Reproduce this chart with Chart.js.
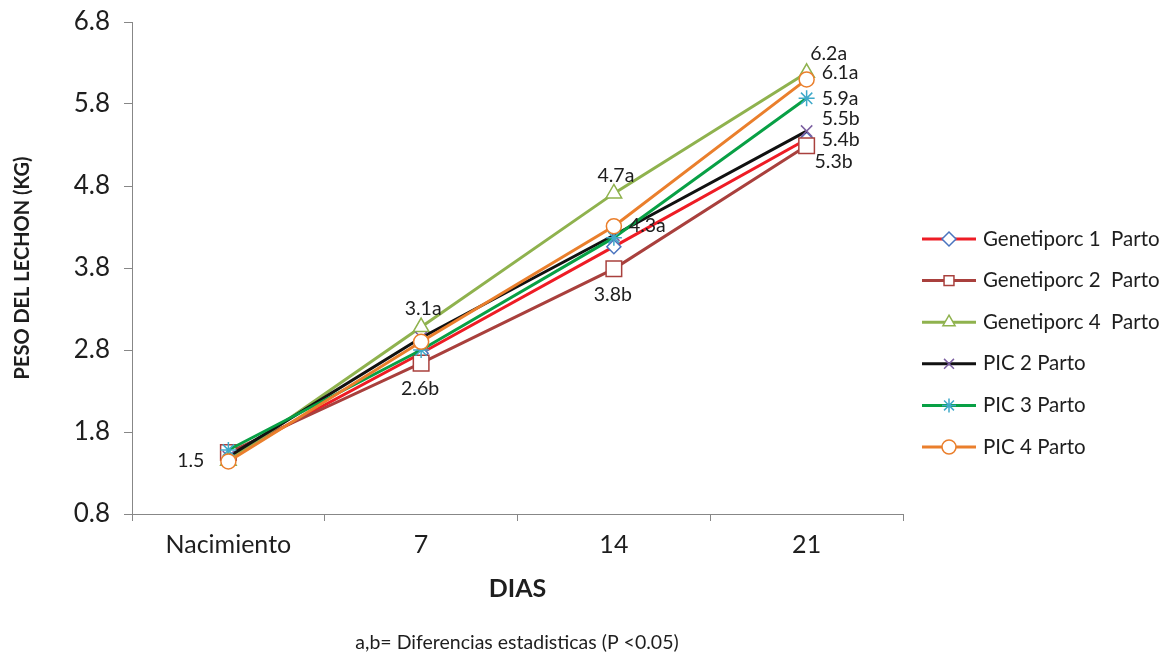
<!DOCTYPE html>
<html>
<head>
<meta charset="utf-8">
<script src="https://cdn.jsdelivr.net/npm/chart.js@4.4.0/dist/chart.umd.min.js"></script>
<style>
  html, body { margin: 0; padding: 0; background: #fff; }
  #wrap { width: 1160px; height: 656px; position: relative; }
</style>
</head>
<body>
<div id="wrap"><canvas id="chart"></canvas></div>
<script>
const categories = ["Nacimiento", "7", "14", "21"];

const genetiporc1 = [1.5, 2.76, 4.06, 5.37];
const genetiporc2 = [1.55, 2.64, 3.79, 5.29];
const genetiporc4 = [1.45, 3.08, 4.71, 6.18];
const pic2 = [1.5, 2.95, 4.2, 5.47];
const pic3 = [1.58, 2.8, 4.17, 5.87];
const pic4 = [1.44, 2.9, 4.31, 6.1];

const labelsG1 = ["1.5", null, null, "5.4b"];
const labelsG2 = [null, "2.6b", "3.8b", "5.3b"];
const labelsG4 = [null, "3.1a", "4.7a", "6.2a"];
const labelsPIC2 = [null, null, null, "5.5b"];
const labelsPIC3 = [null, null, null, "5.9a"];
const labelsPIC4 = [null, null, "4.3a", "6.1a"];

const seriesNames = [
  "Genetiporc 1  Parto",
  "Genetiporc 2  Parto",
  "Genetiporc 4  Parto",
  "PIC 2 Parto",
  "PIC 3 Parto",
  "PIC 4 Parto",
];

const FONT = "Lato, 'Open Sans', sans-serif";
const TEXT = "#1e1e1e";
const AXIS = "#878787";

// where each label sits relative to its point
const LABEL_OFFSETS = {
  left: { dx: -24, dy: 4, align: "right" },
  right: { dx: 15, dy: 0, align: "left" },
  rightUp: { dx: 15, dy: -7, align: "left" },
  rightUp2: { dx: 15, dy: -12, align: "left" },
  above: { dx: 2, dy: -18, align: "center" },
  below: { dx: -1, dy: 26, align: "center" },
  aboveRight: { dx: 22, dy: -19, align: "center" },
  belowRight: { dx: 27, dy: 16, align: "center" },
};

const makeDataset = (i, data, labels, lineColor, pointColor, pointStyle, radius, labelPos) => ({
  label: seriesNames[i],
  data,
  pointLabels: labels,
  labelPos,
  borderColor: lineColor,
  backgroundColor: "#fff",
  borderWidth: 3,
  pointStyle,
  pointRadius: radius,
  pointHoverRadius: radius,
  pointBorderColor: pointColor,
  pointBackgroundColor: "#fff",
  pointBorderWidth: 1.5,
  tension: 0,
  order: 5 - i,
});

const datasets = [
  makeDataset(0, genetiporc1, labelsG1, "#ee1c25", "#4a74bf", "rectRot", 7,
    ["left", null, null, "right"]),
  makeDataset(1, genetiporc2, labelsG2, "#a9403d", "#a9403d", "rect", 11,
    [null, "below", "below", "belowRight"]),
  makeDataset(2, genetiporc4, labelsG4, "#8fb24e", "#8fb24e", "triangle", 9,
    [null, "above", "above", "aboveRight"]),
  makeDataset(3, pic2, labelsPIC2, "#111111", "#7b5fa0", "crossRot", 8,
    [null, null, null, "rightUp2"]),
  makeDataset(4, pic3, labelsPIC3, "#08a045", "#3fa9c9", "star", 8,
    [null, null, null, "right"]),
  makeDataset(5, pic4, labelsPIC4, "#ea7f2c", "#ea7f2c", "circle", 7.5,
    [null, null, "right", "rightUp"]),
];

const pointLabelPlugin = {
  id: "pointLabels",
  afterDatasetsDraw(chart) {
    const { ctx } = chart;
    ctx.save();
    ctx.font = `19.5px ${FONT}`;
    ctx.fillStyle = TEXT;
    ctx.textBaseline = "middle";
    chart.data.datasets.forEach((ds, di) => {
      const meta = chart.getDatasetMeta(di);
      ds.pointLabels.forEach((text, idx) => {
        if (!text) return;
        const pt = meta.data[idx];
        const off = LABEL_OFFSETS[ds.labelPos[idx]];
        ctx.textAlign = off.align;
        ctx.fillText(text, pt.x + off.dx, pt.y + off.dy);
      });
    });
    ctx.restore();
  },
};

const legendPlugin = {
  id: "sideLegend",
  afterDraw(chart) {
    const { ctx } = chart;
    ctx.save();
    chart.data.datasets.forEach((ds, i) => {
      const y = 239 + i * 41.6;
      ctx.strokeStyle = ds.borderColor;
      ctx.lineWidth = 3;
      ctx.beginPath();
      ctx.moveTo(922, y);
      ctx.lineTo(976, y);
      ctx.stroke();
      ctx.strokeStyle = ds.pointBorderColor;
      ctx.fillStyle = "#fff";
      ctx.lineWidth = 1.5;
      Chart.helpers.drawPoint(ctx, {
        pointStyle: ds.pointStyle,
        rotation: 0,
        borderWidth: 1.5,
        radius: Math.min(ds.pointRadius, 7),
      }, 949, y);
      ctx.font = `20.5px ${FONT}`;
      ctx.fillStyle = TEXT;
      ctx.textAlign = "left";
      ctx.textBaseline = "middle";
      ctx.fillText(ds.label, 983, y);
    });
    ctx.font = `19.5px ${FONT}`;
    ctx.textAlign = "center";
    ctx.fillText("a,b= Diferencias estadisticas (P <0.05)", 517, 643);
    ctx.restore();
  },
};

new Chart(document.getElementById("chart"), {
  type: "line",
  data: { labels: categories, datasets },
  plugins: [pointLabelPlugin, legendPlugin],
  options: {
    responsive: true,
    maintainAspectRatio: false,
    animation: false,
    layout: { padding: { left: 0, right: 257, top: 22, bottom: 0 } },
    plugins: {
      legend: { display: false },
      tooltip: { enabled: false },
    },
    scales: {
      x: {
        offset: true,
        afterFit: (scale) => {
          scale.height = 142;
          scale.paddingLeft = 0;
          scale.paddingRight = 0;
        },
        border: { display: true, color: AXIS, width: 1 },
        grid: {
          display: true,
          offset: true,
          drawOnChartArea: false,
          drawTicks: true,
          tickLength: 7,
          color: AXIS,
        },
        ticks: {
          color: TEXT,
          padding: 9,
          font: { family: FONT, size: 25 },
          maxRotation: 0,
        },
        title: {
          display: true,
          text: "DIAS",
          color: TEXT,
          font: { family: FONT, size: 25, weight: "bold" },
          padding: { top: 0, bottom: 52 },
        },
      },
      y: {
        min: 0.8,
        max: 6.8,
        afterFit: (scale) => {
          scale.width = 132;
          scale.paddingTop = 0;
          scale.paddingBottom = 0;
        },
        border: { display: true, color: AXIS, width: 1 },
        grid: {
          display: true,
          drawOnChartArea: false,
          drawTicks: true,
          tickLength: 8,
          color: AXIS,
        },
        ticks: {
          stepSize: 1,
          color: TEXT,
          padding: 14,
          font: { family: FONT, size: 26 },
          callback: (v) => v.toFixed(1),
        },
        title: {
          display: true,
          text: "PESO DEL LECHON (KG)",
          color: TEXT,
          font: { family: FONT, size: 20, weight: "bold" },
          padding: { top: 11, bottom: 0 },
        },
      },
    },
  },
});
</script>
</body>
</html>
